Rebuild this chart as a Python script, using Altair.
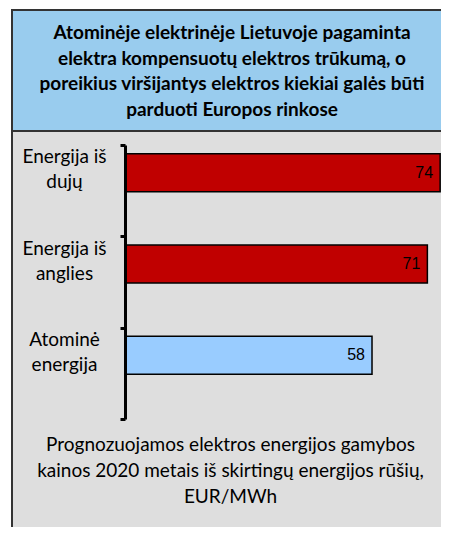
import altair as alt
import pandas as pd

# ---- data ----
categories = ["Energija iš\ndujų", "Energija iš\nanglies", "Atominė\nenergija"]
values = [74, 71, 58]
kinds = ["kita", "kita", "atominė"]
title_lines = [
    "Atominėje elektrinėje Lietuvoje pagaminta",
    "elektra kompensuotų elektros trūkumą, o",
    "poreikius viršijantys elektros kiekiai galės būti",
    "parduoti Europos rinkose",
]
caption_lines = [
    "Prognozuojamos elektros energijos gamybos",
    "kainos 2020 metais iš skirtingų energijos rūšių,",
    "EUR/MWh",
]

df = pd.DataFrame({"category": categories, "value": values, "kind": kinds})

W, H = 316, 274
FONT = "Lato"

y_enc = alt.Y(
    "category:N",
    sort=categories,
    scale=alt.Scale(paddingInner=0, paddingOuter=0),
    axis=alt.Axis(
        title=None, grid=False, domainColor="black", domainWidth=3,
        tickColor="black", tickWidth=3, tickSize=5, tickBand="extent",
        labelFont=FONT, labelFontSize=19, labelColor="black",
        labelAlign="center", labelBaseline="middle", labelPadding=56,
        labelOffset=-34, labelLineHeight=25, labelLimit=0,
        labelExpr="split(datum.label, '\\n')", zindex=2,
    ),
)
x_enc = alt.X(
    "value:Q",
    scale=alt.Scale(domain=[0, 74.2], nice=False),
    axis=alt.Axis(
        domain=False, ticks=False, labels=False, grid=False,
        title=caption_lines, titleFont=FONT, titleFontSize=19,
        titleFontWeight="normal", titleColor="black", titleLineHeight=26,
        titleX=105, titleY=25, titleAlign="center", titleBaseline="middle",
        zindex=2,
    ),
)

one = pd.DataFrame({"p": [0]})
panel = alt.Chart(one).mark_rect(fill="#DEDEDE", stroke="#333333", strokeWidth=2).encode(
    x=alt.value(-113), x2=alt.value(W + 30), y=alt.value(-14), y2=alt.value(H + 160)
)
header = alt.Chart(one).mark_rect(fill="#99CCEE", stroke="#333333", strokeWidth=2).encode(
    x=alt.value(-113), x2=alt.value(W + 30), y=alt.value(-135), y2=alt.value(-14)
)

bars = alt.Chart(df).mark_bar(size=38, yOffset=-18, stroke="black", strokeWidth=1.5).encode(
    y=y_enc,
    x=x_enc,
    color=alt.Color("kind:N", scale=alt.Scale(domain=["kita", "atominė"], range=["#C00000", "#99CCFF"]), legend=None),
)
vals = alt.Chart(df).mark_text(
    align="right", baseline="middle", dx=-7, yOffset=-18, fontSize=16,
    font="Liberation Sans", color="black",
).encode(y=y_enc, x=x_enc, text="value:Q")

chart = alt.layer(panel, header, bars, vals).properties(
    width=W, height=H,
    title=alt.TitleParams(
        text=title_lines, font=FONT, fontSize=19, fontWeight="bold", color="black",
        lineHeight=25.5, anchor="middle", frame="group", dx=-51, dy=140.5, offset=30,
    ),
    autosize=alt.AutoSizeParams(type="none"),
    padding={"left": 117, "top": 137, "right": 0, "bottom": 108},
).configure_view(stroke=None).configure(background="white")

chart.save("out.html", embed_options={"renderer": "svg", "actions": False})
